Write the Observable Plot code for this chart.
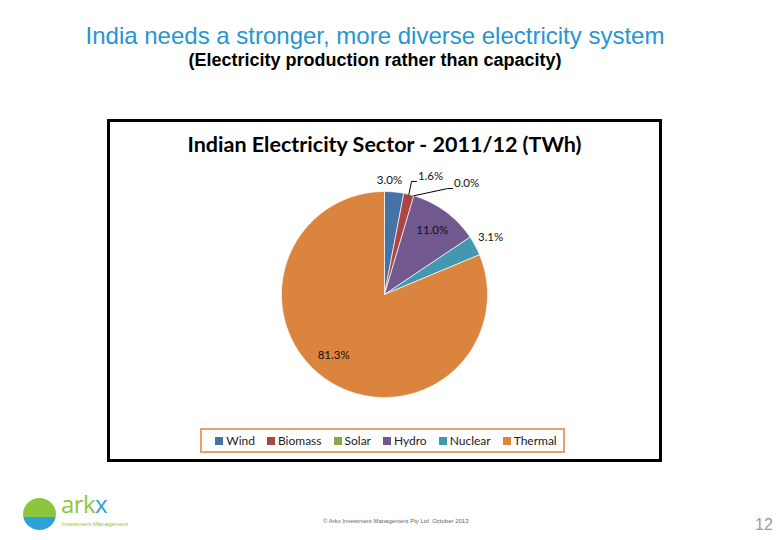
<!DOCTYPE html>
<html>
<head>
<meta charset="utf-8">
<script src="https://cdn.jsdelivr.net/npm/d3@7"></script>
<script src="https://cdn.jsdelivr.net/npm/@observablehq/plot@0.6"></script>
<style>
  html, body { margin: 0; padding: 0; background: #fff; }
  body { width: 780px; height: 540px; position: relative; overflow: hidden; font-family: "Liberation Sans", Arial, sans-serif; }
  .abs { position: absolute; white-space: nowrap; }
  #slideTitle { left: 0; width: 750px; top: 23px; text-align: center; font-size: 24px; line-height: 26px; color: #2596D1; }
  #slideSub { left: 0; width: 750px; top: 50px; text-align: center; font-size: 18px; line-height: 20px; font-weight: bold; color: #000; }
  #box { left: 107px; top: 119px; width: 555px; height: 343px; box-sizing: border-box; border: 3px solid #000; }
  #chartTitle { left: 107px; width: 555px; top: 131px; text-align: center; font-family: Lato, "Open Sans", sans-serif; font-weight: bold; font-size: 21.5px; line-height: 26px; color: #000; }
  #legendBox { left: 200px; top: 428px; width: 365px; height: 25px; box-sizing: border-box; border: 2px solid #E5A266; display: flex; align-items: center; justify-content: center; padding-left: 7px; }
  #legendBox .lg-swatches { font-family: Lato, "Open Sans", sans-serif !important; font-size: 12px !important; color: #222 !important; min-height: 0 !important; margin: 0 !important; flex-wrap: nowrap !important; white-space: nowrap !important; }
  #legendBox .lg-swatch { margin-right: 12px !important; }
  #legendBox .lg-swatch:last-child { margin-right: 0 !important; }
  #legendBox .lg-swatch > svg { margin-right: 3px !important; }
  #plotWrap { left: 0; top: 0; }
  #copy { left: 323px; top: 518px; font-size: 6px; color: #666; }
  #page { left: 755px; top: 516px; font-size: 16px; color: #9a9a9a; font-family: "Liberation Sans", Arial, sans-serif; }
  #logoMark { left: 23px; top: 498px; width: 33px; height: 32px; border-radius: 50%; background: linear-gradient(#8CC63F 0%, #8CC63F 58%, #2BA3D8 58%, #2BA3D8 100%); }
  #logoText { left: 61px; top: 488px; font-family: "Open Sans", sans-serif; font-size: 24px; line-height: 32px; letter-spacing: -0.6px; color: #8CC63F; }
  #logoText span { color: #2BA3D8; }
  #logoSub { left: 62px; top: 521px; font-size: 6px; line-height: 7px; color: #8CC63F; }
</style>
</head>
<body>
<div id="plotWrap" class="abs"></div>
<div id="slideTitle" class="abs">India needs a stronger, more diverse electricity system</div>
<div id="slideSub" class="abs">(Electricity production rather than capacity)</div>
<div id="box" class="abs"></div>
<div id="chartTitle" class="abs">Indian Electricity Sector - 2011/12 (TWh)</div>
<div id="legendBox" class="abs"></div>
<div id="logoMark" class="abs"></div>
<div id="logoText" class="abs">ark<span>x</span></div>
<div id="logoSub" class="abs">Investment Management</div>
<div id="copy" class="abs">© Arkx Investment Management Pty Ltd &nbsp;October 2013</div>
<div id="page" class="abs">12</div>
<script>
// ---- data ----
const categories = ["Wind", "Biomass", "Solar", "Hydro", "Nuclear", "Thermal"];
const shares = [3.0, 1.6, 0.0, 11.0, 3.1, 81.3];
const colors = ["#4572A7", "#AA4643", "#89A54E", "#71588F", "#4198AF", "#DB843D"];
const labels = ["3.0%", "1.6%", "0.0%", "11.0%", "3.1%", "81.3%"];

// ---- label layout (polar: angle in degrees clockwise from 12 o'clock, radius in pie radii) ----
const labelLayout = {
  Wind:    {a: 2.5,   r: 1.11},
  Biomass: {a: 21.3,  r: 1.23, leader: true},
  Solar:   {a: 36.5,  r: 1.34, leader: true},
  Hydro:   {a: 36.4,  r: 0.78},
  Nuclear: {a: 61.7,  r: 1.17},
  Thermal: {a: 219.9, r: 0.77}
};

const total = d3.sum(shares);
const rad = Math.PI / 180;
let cum = 0;
const slices = categories.map((c, i) => {
  const a0 = cum / total * 2 * Math.PI;
  cum += shares[i];
  const a1 = cum / total * 2 * Math.PI;
  return {category: c, a0, a1, color: colors[i], label: labels[i]};
});

// slice outlines (center -> arc -> center), in unit-radius coordinates
const pts = [];
for (const s of slices) {
  if (s.a1 - s.a0 <= 0) continue;
  pts.push({category: s.category, x: 0, y: 0});
  const n = Math.max(2, Math.ceil((s.a1 - s.a0) / rad));
  for (let k = 0; k <= n; k++) {
    const a = s.a0 + (s.a1 - s.a0) * k / n;
    pts.push({category: s.category, x: Math.sin(a), y: Math.cos(a)});
  }
  pts.push({category: s.category, x: 0, y: 0});
}

// label points
const R = 103; // pixels per unit radius (matches scale ranges below)
const textPts = slices.map(s => {
  const L = labelLayout[s.category];
  return {category: s.category, label: s.label, x: L.r * Math.sin(L.a * rad), y: L.r * Math.cos(L.a * rad), leader: L.leader, mid: (s.a0 + s.a1) / 2};
});

// leader lines: from slice edge to an elbow beside the label
const leaders = [];
for (const t of textPts) {
  if (!t.leader) continue;
  const endX = t.x - 14 / R, yy = t.y - 5 / R;
  leaders.push({category: t.category, x: Math.sin(t.mid), y: Math.cos(t.mid)});
  leaders.push({category: t.category, x: endX - 5 / R, y: yy});
  leaders.push({category: t.category, x: endX, y: yy});
}

const chart = Plot.plot({
  width: 780,
  height: 540,
  margin: 0,
  axis: null,
  x: {domain: [-1, 1], range: [384 - R, 384 + R]},
  y: {domain: [-1, 1], range: [294 + R, 294 - R]},
  color: {type: "ordinal", domain: categories, range: colors},
  style: {background: "transparent", overflow: "visible", fontFamily: "Lato, 'Open Sans', sans-serif"},
  marks: [
    Plot.line(pts, {x: "x", y: "y", z: "category", fill: "category", stroke: "white", strokeWidth: 0.8, strokeOpacity: 0.85, curve: "linear"}),
    Plot.line(leaders, {x: "x", y: "y", z: "category", stroke: "#000", strokeWidth: 1}),
    Plot.text(textPts, {x: "x", y: "y", text: "label", fontSize: 11.5, fill: "#111"})
  ]
});
document.getElementById("plotWrap").appendChild(chart);

const legend = Plot.legend({
  color: {type: "ordinal", domain: categories, range: colors},
  legend: "swatches",
  swatchSize: 8,
  className: "lg"
});
document.getElementById("legendBox").appendChild(legend);
</script>
</body>
</html>
